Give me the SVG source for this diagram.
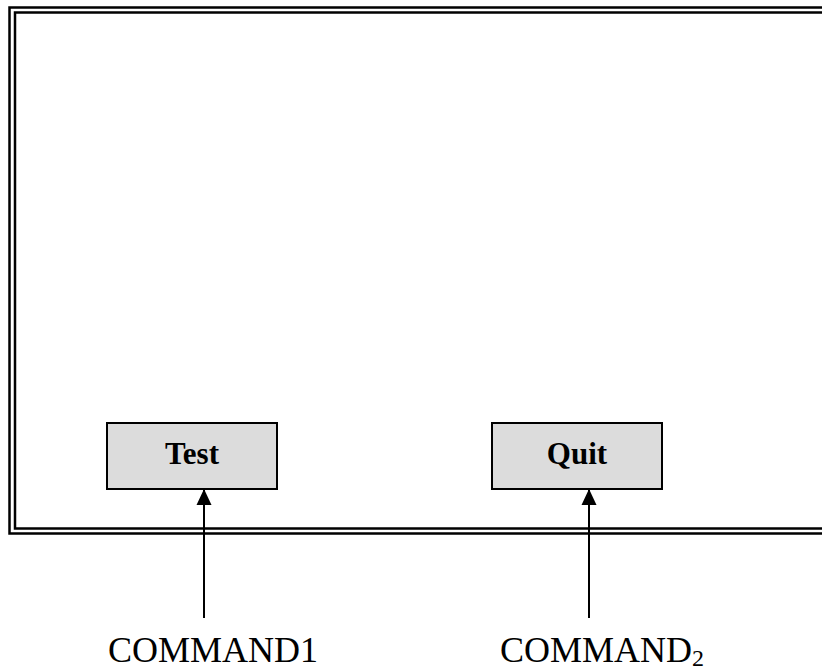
<svg xmlns="http://www.w3.org/2000/svg" width="822" height="670" viewBox="0 0 822 670">
  <defs>
    <style>
      .frame { fill: none; stroke: #000; }
      .btn rect { fill: #dcdcdc; stroke: #000; stroke-width: 2; }
      .btn text { font-family: "Liberation Serif", "Times New Roman", serif; font-weight: bold; font-size: 31px; text-anchor: middle; fill: #000; }
      .lbl { font-family: "Liberation Serif", "Times New Roman", serif; font-size: 36px; fill: #000; }
      .conn line { stroke: #000; stroke-width: 2; }
    </style>
    <marker id="arr" markerWidth="8" markerHeight="8" refX="7.5" refY="4" orient="auto" markerUnits="userSpaceOnUse" viewBox="0 0 8 8">
      <path d="M0,0 L8,4 L0,8 Z" fill="#000"/>
    </marker>
  </defs>
  <rect width="822" height="670" fill="#fff"/>
  <g id="window">
    <path class="frame" stroke-width="2.5" d="M830,7.5 H9.5 V533.5 H830"/>
    <path class="frame" stroke-width="2.5" d="M830,12.5 H15 V528.5 H830"/>
  </g>
  <g id="test" class="btn">
    <rect x="107" y="423" width="170" height="66"/>
    <text x="192" y="464">Test</text>
  </g>
  <g id="quit" class="btn">
    <rect x="492" y="423" width="170" height="66"/>
    <text x="577" y="464">Quit</text>
  </g>
  <g id="connectors" class="conn">
    <line x1="204" y1="618" x2="204" y2="490"/>
    <path d="M204,489 L196.5,505 L211.5,505 Z" fill="#000"/>
    <line x1="589" y1="618" x2="589" y2="490"/>
    <path d="M589,489 L581.5,505 L596.5,505 Z" fill="#000"/>
  </g>
  <g id="command1">
    <text class="lbl" x="108" y="662">COMMAND1</text>
  </g>
  <g id="command2">
    <text class="lbl" x="500" y="662">COMMAND<tspan font-size="24" dy="4">2</tspan></text>
  </g>
</svg>
